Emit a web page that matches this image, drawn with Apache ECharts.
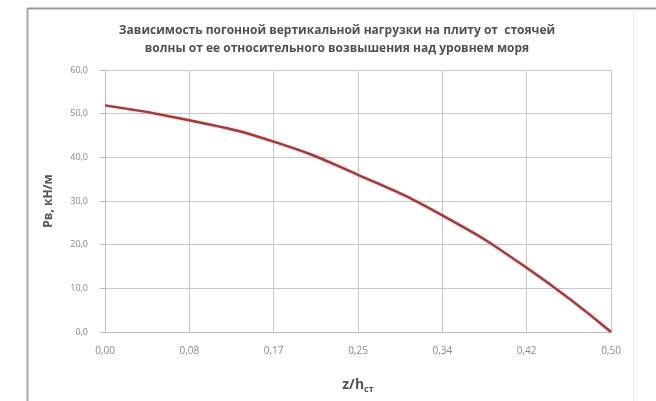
<!DOCTYPE html>
<html>
<head>
<meta charset="utf-8">
<script src="https://cdn.jsdelivr.net/npm/echarts@6/dist/echarts.min.js"></script>
<style>html,body{margin:0;padding:0;background:#fff}#c{width:656px;height:401px}</style>
</head>
<body>
<div id="c"></div>
<script>
var categories = ['0,00', '0,08', '0,17', '0,25', '0,34', '0,42', '0,50'];
var values = [51.9, 48.5, 43.6, 36.0, 26.7, 14.7, 0.0];
var titleText = 'Зависимость погонной вертикальной нагрузки на плиту от  стоячей\nволны от ее относительного возвышения над уровнем моря';
var yName = 'Pв, кН/м';
var xName = 'z/h{s|ст}';

var chart = echarts.init(document.getElementById('c'));
chart.setOption({
  animation: false,
  title: {
    text: titleText,
    left: 332, top: 17, textAlign: 'center',
    textStyle: {fontFamily: 'Open Sans', fontSize: 12, fontWeight: 'bold', color: '#505050', lineHeight: 18}
  },
  graphic: [
    {type: 'line', shape: {x1: 27, y1: 8.5, x2: 656, y2: 8.5}, style: {stroke: '#9a9a9a', lineWidth: 2}},
    {type: 'line', shape: {x1: 27.5, y1: 8, x2: 27.5, y2: 401}, style: {stroke: '#a8a8a8', lineWidth: 2}},
    {type: 'line', shape: {x1: 633.5, y1: 9, x2: 633.5, y2: 401}, style: {stroke: '#ececec', lineWidth: 1}}
  ],
  grid: {left: 105, right: 45, top: 70, bottom: 69},
  xAxis: {
    type: 'category', data: categories, boundaryGap: false,
    name: xName, nameLocation: 'middle', nameGap: 45,
    nameTextStyle: {fontFamily: 'Open Sans', fontSize: 14, fontWeight: 'bold', color: '#555',
      rich: {s: {fontSize: 9, fontWeight: 'bold', color: '#555', verticalAlign: 'bottom', padding: [8,0,0,0]}}},
    axisLine: {lineStyle: {color: '#bdbdbd'}},
    axisTick: {show: false},
    axisLabel: {fontFamily: 'Open Sans', fontSize: 10, color: '#888', margin: 14},
    splitLine: {show: true, lineStyle: {color: '#c8c8c8', width: 1}}
  },
  yAxis: {
    type: 'value', min: 0, max: 60, interval: 10,
    name: yName, nameLocation: 'middle', nameGap: 50, nameRotate: 90,
    nameTextStyle: {fontFamily: 'Open Sans', fontSize: 12, fontWeight: 'bold', color: '#555'},
    axisLine: {show: true, lineStyle: {color: '#bdbdbd'}},
    axisTick: {show: true, length: 5, inside: false, lineStyle: {color: '#bdbdbd'}},
    axisLabel: {fontFamily: 'Open Sans', fontSize: 9, color: '#888', margin: 17,
      formatter: function (v) { return v.toFixed(1).replace('.', ','); }},
    splitLine: {lineStyle: {color: '#c8c8c8', width: 1}}
  },
  series: [{
    type: 'line', data: values, smooth: true, symbol: 'none',
    lineStyle: {color: '#a8393b', width: 2.5, shadowColor: 'rgba(230,120,120,0.5)', shadowBlur: 2}
  }]
});
</script>
</body>
</html>
